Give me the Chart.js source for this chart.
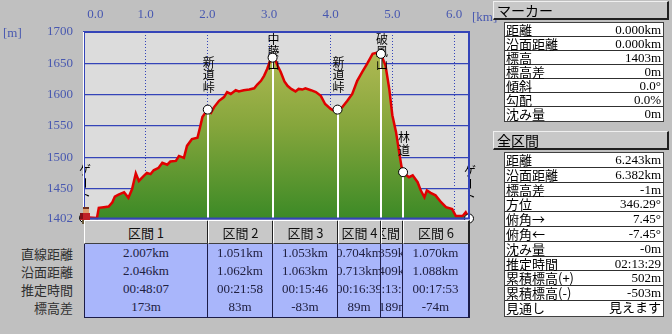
<!DOCTYPE html>
<html>
<head>
<meta charset="utf-8">
<script src="https://cdn.jsdelivr.net/npm/chart.js@4/dist/chart.umd.min.js"></script>
<style>
  body { margin: 0; background: #c0c0c0; width: 672px; height: 334px; overflow: hidden; position: relative; font-family: "Noto Sans CJK JP", sans-serif; }
  #profile { position: absolute; left: 0; top: 0; }
  .unit { position: absolute; color: #4858b0; font: 13px "Liberation Serif", serif; }
  .rowLabel { position: absolute; right: 599px; width: 80px; text-align: right; font-size: 13px; color: #303030; height: 18px; line-height: 18px; }
  .head { position: absolute; box-sizing: border-box; background: #c8c8c8; border-top: 1px solid #fff; border-left: 1px solid #fff; border-right: 2px solid #202020; border-bottom: 1px solid #404040; display: flex; justify-content: center; align-items: center; overflow: hidden; white-space: nowrap; font-size: 13px; color: #101010; }
  .body { position: absolute; box-sizing: border-box; background: #a9b6fb; border-right: 2px solid #1c1c48; border-bottom: 1px solid #1c1c48; overflow: hidden; padding-top: 1px; }
  .cell { display: flex; justify-content: center; white-space: nowrap; height: 18px; line-height: 18px; font: 13px "Liberation Serif", "Noto Sans CJK JP", serif; color: #202040; }
  .bar { position: absolute; left: 493px; width: 176px; height: 19px; box-sizing: border-box; background: #c8c8c8; border-top: 1px solid #f0f0f0; border-left: 1px solid #f0f0f0; border-right: 2px solid #202020; border-bottom: 2px solid #202020; font-size: 14px; line-height: 16px; padding-left: 3px; color: #000; }
  .tbl { position: absolute; left: 504px; width: 160px; box-sizing: border-box; background: #fff; border: 1px solid #404040; }
  .tr { display: flex; justify-content: space-between; box-sizing: border-box; border-bottom: 1px solid #303030; padding: 0 2px 0 1px; font-size: 13px; color: #000; }
  .tr:last-child { border-bottom: none; }
  .tr .v { font-family: "Liberation Serif", "Noto Sans CJK JP", serif; }
</style>
</head>
<body>
<canvas id="profile" width="490" height="224" style="width:490px;height:224px"></canvas>
<div class="unit" style="left:3px;top:25px;">[m]</div>
<div class="unit" style="left:472px;top:9px;">[km]</div>
<div id="sections"></div>
<div id="side"></div>
<script>
// profile (horizontal km, elevation m)
const profileKm = [0, 0.02, 0.21, 0.24, 0.32, 0.40, 0.46, 0.50, 0.56, 0.65, 0.72, 0.78, 0.84, 0.89, 0.97,
  1.02, 1.08, 1.13, 1.21, 1.27, 1.35, 1.40, 1.49, 1.54, 1.62, 1.67, 1.75, 1.84, 1.88, 1.92, 1.96,
  2.007, 2.06, 2.11, 2.19, 2.27, 2.32, 2.38, 2.46, 2.51, 2.59, 2.68, 2.76, 2.81, 2.87, 2.92, 2.97,
  3.01, 3.058, 3.09, 3.14, 3.19, 3.25, 3.30, 3.36, 3.43, 3.48, 3.54, 3.59, 3.68, 3.76, 3.84, 3.91,
  4.00, 4.06, 4.111, 4.19, 4.27, 4.35, 4.43, 4.51, 4.59, 4.68, 4.76, 4.815, 4.89, 4.95,
  5.00, 5.06, 5.11, 5.15, 5.174, 5.22, 5.27, 5.33, 5.41, 5.46, 5.52, 5.56, 5.62, 5.70, 5.79, 5.87, 5.97,
  6.03, 6.14, 6.19, 6.243];
const profileElev = [1403, 1404, 1403, 1419, 1420, 1421, 1428, 1437, 1440, 1444, 1435, 1449, 1474, 1462, 1470,
  1475, 1473, 1479, 1483, 1491, 1488, 1493, 1494, 1502, 1499, 1518, 1529, 1531, 1547, 1564, 1570,
  1576, 1571, 1580, 1590, 1596, 1604, 1601, 1607, 1605, 1607, 1608, 1610, 1616, 1622, 1630, 1641,
  1652, 1659, 1658, 1646, 1636, 1621, 1614, 1609, 1605, 1609, 1608, 1610, 1607, 1604, 1598, 1585,
  1577, 1574, 1576, 1580, 1590, 1601, 1622, 1636, 1649, 1665, 1667, 1665, 1646, 1609,
  1567, 1540, 1508, 1484, 1476, 1472, 1468, 1471, 1460, 1447, 1436, 1447, 1443, 1439, 1428, 1420, 1417,
  1406, 1406, 1412, 1402];

const kmTicks = [0, 1, 2, 3, 4, 5, 6];
const elevTicks = [1402, 1450, 1500, 1550, 1600, 1650, 1700];

const wpKm = [0, 2.007, 3.058, 4.111, 4.815, 5.174, 6.243];
const wpElev = [1403, 1576, 1659, 1576, 1665, 1476, 1402];
const wpName = ['ゲート', '新道峠', '中藤山', '新道峠', '破風山', '林道', 'ゲート'];

const secName = ['区間 1', '区間 2', '区間 3', '区間 4', '区間 5', '区間 6'];
const secStraight = ['2.007km', '1.051km', '1.053km', '0.704km', '0.359km', '1.070km'];
const secSurface = ['2.046km', '1.062km', '1.063km', '0.713km', '0.409km', '1.088km'];
const secTime = ['00:48:07', '00:21:58', '00:15:46', '00:16:39', '00:13:06', '00:17:53'];
const secDiff = ['173m', '83m', '-83m', '89m', '-189m', '-74m'];
const secRowNames = ['直線距離', '沿面距離', '推定時間', '標高差'];

const markerLabels = ['距離', '沿面距離', '標高', '標高差', '傾斜', '勾配', '沈み量'];
const markerValues = ['0.000km', '0.000km', '1403m', '0m', '0.0°', '0.0%', '0m'];
const totalLabels = ['距離', '沿面距離', '標高差', '方位', '俯角→', '俯角←', '沈み量', '推定時間', '累積標高(+)', '累積標高(-)', '見通し'];
const totalValues = ['6.243km', '6.382km', '-1m', '346.29°', '7.45°', '-7.45°', '-0m', '02:13:29', '502m', '-503m', '見えます'];

const plotDeco = {
    id: 'plotDeco',
    beforeDraw(chart) {
        const {ctx, chartArea: a} = chart;
        ctx.save();
        ctx.fillStyle = '#dcdcdc';
        ctx.fillRect(a.left, a.top, a.right - a.left, a.bottom - a.top);
        ctx.restore();
    },
    afterDatasetDraw(chart, args) {
        if (args.index !== 0) return;
        const {ctx, chartArea: a, scales} = chart;
        ctx.save();
        // white drop lines
        ctx.strokeStyle = '#ffffff';
        ctx.lineWidth = 2;
        wpKm.forEach((d, i) => {
            const px = Math.round(scales.x.getPixelForValue(d));
            const py = scales.y.getPixelForValue(wpElev[i]);
            ctx.beginPath();
            ctx.moveTo(px, py);
            ctx.lineTo(px, a.bottom);
            ctx.stroke();
        });
        // vertical names
        ctx.fillStyle = '#000';
        ctx.font = '12px "Noto Sans CJK JP"';
        ctx.textAlign = 'center';
        ctx.textBaseline = 'middle';
        const step = 12.5;
        wpName.forEach((name, i) => {
            const px = scales.x.getPixelForValue(wpKm[i]) + 1;
            const py = scales.y.getPixelForValue(wpElev[i]);
            const chars = Array.from(name);
            let top = py - 16 - chars.length * step;
            if (top < a.top + 1) top = a.top + 1;
            chars.forEach((c, k) => {
                const cy = top + step * k + step / 2;
                if (c === 'ー') {
                    ctx.save();
                    ctx.translate(px, cy);
                    ctx.rotate(Math.PI / 2);
                    ctx.fillText(c, 0, 0);
                    ctx.restore();
                } else {
                    ctx.fillText(c, px, cy);
                }
            });
        });
        ctx.restore();
    },
    afterDatasetsDraw(chart) {
        const {ctx, chartArea: a, scales} = chart;
        ctx.save();
        ctx.strokeStyle = '#3444b8';
        ctx.lineWidth = 2;
        ctx.strokeRect(a.left, a.top, a.right - a.left, a.bottom - a.top);
        ctx.strokeStyle = '#ffffff';
        ctx.lineWidth = 1;
        ctx.beginPath();
        ctx.moveTo(a.left - 0.5, a.top);
        ctx.lineTo(a.left - 0.5, a.bottom);
        ctx.stroke();
        // little hiker at the start
        const hx = Math.round(scales.x.getPixelForValue(wpKm[0]));
        const hy = Math.round(scales.y.getPixelForValue(wpElev[0]));
        ctx.fillStyle = '#e0a070'; ctx.fillRect(hx - 1, hy - 9, 6, 4);
        ctx.fillStyle = '#703020'; ctx.fillRect(hx - 1, hy - 11, 6, 2);
        ctx.fillStyle = '#c02028'; ctx.fillRect(hx - 4, hy - 5, 10, 7);
        ctx.fillStyle = '#801018'; ctx.fillRect(hx - 4, hy - 5, 3, 6);
        ctx.fillStyle = '#6a5a3a'; ctx.fillRect(hx - 2, hy + 2, 7, 6);
        ctx.fillStyle = '#302820'; ctx.fillRect(hx - 3, hy + 8, 3, 2); ctx.fillRect(hx + 3, hy + 8, 3, 2);
        ctx.restore();
    }
};

const ctx = document.getElementById('profile').getContext('2d');
const chart = new Chart(ctx, {
    type: 'line',
    data: {
        datasets: [{
            data: profileKm.map((d, i) => ({x: d, y: profileElev[i]})),
            borderColor: '#e00000',
            borderWidth: 2.5,
            pointRadius: 0,
            tension: 0,
            fill: 'start',
            order: 2,
            backgroundColor: (c) => {
                const area = c.chart.chartArea;
                if (!area) return '#80a040';
                const g = c.chart.ctx.createLinearGradient(0, area.top, 0, area.bottom);
                g.addColorStop(0, '#bcbf5a');
                g.addColorStop(0.5, '#86a63c');
                g.addColorStop(1, '#3c8a26');
                return g;
            }
        }, {
            data: wpKm.map((d, i) => ({x: d, y: wpElev[i]})),
            showLine: false,
            pointRadius: 4.5,
            pointBackgroundColor: '#ffffff',
            pointBorderColor: '#000000',
            pointBorderWidth: 1,
            order: 1
        }]
    },
    options: {
        responsive: false,
        animation: false,
        clip: false,
        layout: {padding: {left: 0, top: 0, right: 21, bottom: 2}},
        plugins: {legend: {display: false}, tooltip: {enabled: false}},
        scales: {
            x: {
                type: 'linear',
                position: 'top',
                min: 0,
                max: 6.243,
                afterBuildTicks: (axis) => { axis.ticks = kmTicks.map(v => ({value: v})); },
                afterFit: (axis) => {
                    axis.height = 32;
                    axis.paddingLeft = 0;
                    axis.paddingRight = 0;
                },
                ticks: {
                    padding: 10,
                    color: '#4858b0',
                    font: {family: 'Liberation Serif', size: 13},
                    maxRotation: 0,
                    autoSkip: false,
                    callback: (v, i) => (i === 0 ? '       ' : '') + Number(v).toFixed(1)
                },
                grid: {color: '#3444b8', lineWidth: 1, drawTicks: false},
                border: {display: false, dash: [1, 2]}
            },
            y: {
                min: 1402,
                max: 1700,
                afterBuildTicks: (axis) => { axis.ticks = elevTicks.map(v => ({value: v})); },
                afterFit: (axis) => {
                    axis.width = 84;
                    axis.paddingTop = 0;
                    axis.paddingBottom = 0;
                },
                ticks: {
                    padding: 11,
                    color: '#4858b0',
                    font: {family: 'Liberation Serif', size: 13},
                    autoSkip: false,
                    callback: (v) => String(v)
                },
                grid: {color: '#3444b8', lineWidth: 1.3, drawTicks: false},
                border: {display: false}
            }
        }
    },
    plugins: [plotDeco]
});

// section table under the profile, columns placed on the km scale
const xs = chart.scales.x;
const sec = document.getElementById('sections');
let html = '';
secRowNames.forEach((n, r) => {
    html += '<div class="rowLabel" style="top:' + (245 + r * 18) + 'px">' + n + '</div>';
});
for (let i = 0; i < secName.length; i++) {
    const l = Math.round(xs.getPixelForValue(wpKm[i]));
    const r = Math.round(xs.getPixelForValue(wpKm[i + 1]));
    const w = r - l + 1;
    html += '<div class="head" style="left:' + l + 'px;top:220px;width:' + w + 'px;height:24px">' + secName[i] + '</div>';
    html += '<div class="body" style="left:' + l + 'px;top:244px;width:' + w + 'px;height:74px;' + (i === 0 ? 'border-left:1px solid #1c1c48;' : '') + '">' +
        '<div class="cell">' + secStraight[i] + '</div>' +
        '<div class="cell">' + secSurface[i] + '</div>' +
        '<div class="cell">' + secTime[i] + '</div>' +
        '<div class="cell">' + secDiff[i] + '</div></div>';
}
sec.innerHTML = html;

// side panels
function panel(title, top, labels, values, rowH) {
    let s = '<div class="bar" style="top:' + top + 'px">' + title + '</div>';
    s += '<div class="tbl" style="top:' + (top + 21) + 'px">';
    labels.forEach((l, i) => {
        s += '<div class="tr" style="height:' + rowH + 'px;line-height:' + (rowH - 1) + 'px"><span>' + l + '</span><span class="v">' + values[i] + '</span></div>';
    });
    return s + '</div>';
}
document.getElementById('side').innerHTML =
    panel('マーカー', 1, markerLabels, markerValues, 14) +
    panel('全区間', 131, totalLabels, totalValues, 14.8);
</script>
</body>
</html>
